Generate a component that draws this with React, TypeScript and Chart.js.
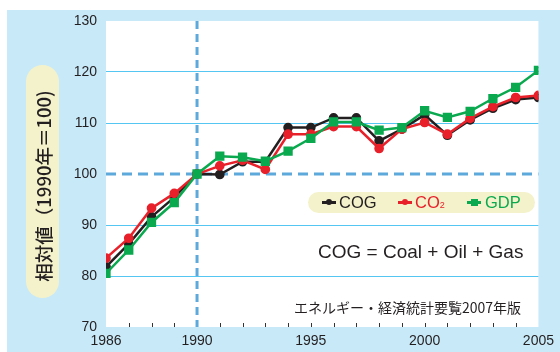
import React, { useEffect, useRef } from "react";
import { Chart, registerables } from "chart.js";

Chart.register(...registerables);

const years = [1986, 1987, 1988, 1989, 1990, 1991, 1992, 1993, 1994, 1995, 1996, 1997, 1998, 1999, 2000, 2001, 2002, 2003, 2004, 2005];
const cog = [81.8, 86.3, 91.6, 95.4, 100, 99.9, 102.4, 102.4, 109.1, 109.1, 111.0, 111.0, 106.5, 108.8, 111.6, 107.6, 110.6, 112.9, 114.6, 115.0];
const co2 = [83.5, 87.4, 93.3, 96.2, 100, 101.6, 102.7, 100.9, 107.8, 107.8, 109.3, 109.3, 105.0, 108.8, 110.1, 107.8, 110.9, 113.2, 115.0, 115.4];
const gdp = [80.5, 85.1, 90.5, 94.4, 100, 103.5, 103.3, 102.5, 104.5, 107.0, 110.2, 110.2, 108.6, 109.1, 112.4, 111.1, 112.3, 114.8, 117.0, 120.3];
const xTickLabels = [1986, 1990, 1995, 2000, 2005];
const yMin = 70;
const yMax = 130;
const refYear = 1990;
const refValue = 100;

const BLUE_BG = "#c8e9f8";
const CREAM = "#f4f2cb";
const GRID = "#55c6f2";
const DASH = "#5ea9dc";
const TEXT = "#231f20";
const BLACK = "#231f20";
const RED = "#e8202a";
const GREEN = "#0aa94f";

const bgPlugin = {
  id: "bgPlugin",
  beforeDraw(chart: any) {
    const { ctx, chartArea } = chart;
    ctx.save();
    ctx.fillStyle = "#ffffff";
    ctx.fillRect(0, 0, chart.width, chart.height);
    ctx.fillStyle = BLUE_BG;
    ctx.fillRect(7, 10, chart.width - 7, chart.height - 10);
    ctx.fillStyle = "#ffffff";
    ctx.fillRect(chartArea.left, chartArea.top, chartArea.right - chartArea.left, chartArea.bottom - chartArea.top);
    ctx.restore();
  },
};

const refPlugin = {
  id: "refPlugin",
  beforeDatasetsDraw(chart: any) {
    const { ctx, chartArea, scales } = chart;
    const xs = scales.x;
    const ys = scales.y;
    ctx.save();
    ctx.strokeStyle = "#333";
    ctx.lineWidth = 1;
    years.forEach((yr) => {
      if (yr === years[0] || yr === years[years.length - 1] || yr === refYear) return;
      const px = Math.round(xs.getPixelForValue(yr)) + 0.5;
      ctx.beginPath();
      ctx.moveTo(px, chartArea.bottom);
      ctx.lineTo(px, chartArea.bottom - 4);
      ctx.stroke();
    });
    ctx.strokeStyle = DASH;
    ctx.lineWidth = 3;
    const py = ys.getPixelForValue(refValue);
    ctx.setLineDash([10, 6]);
    ctx.beginPath();
    ctx.moveTo(chartArea.left, py);
    ctx.lineTo(chartArea.right, py);
    ctx.stroke();
    const px = xs.getPixelForValue(refYear);
    ctx.setLineDash([8, 5]);
    ctx.beginPath();
    ctx.moveTo(px, chartArea.top);
    ctx.lineTo(px, chartArea.bottom);
    ctx.stroke();
    ctx.restore();
  },
};

const toPts = (arr: number[]) => years.map((yr, i) => ({ x: yr, y: arr[i] }));

export default function App() {
  const ref = useRef<HTMLCanvasElement | null>(null);
  useEffect(() => {
    if (!ref.current) return;
    const chart = new Chart(ref.current, {
      type: "line",
      data: {
        datasets: [
          {
            label: "COG",
            data: toPts(cog),
            borderColor: BLACK,
            backgroundColor: BLACK,
            borderWidth: 2.5,
            pointRadius: 3.6,
            pointStyle: "circle",
            order: 2,
          },
          {
            label: "CO2",
            data: toPts(co2),
            borderColor: RED,
            backgroundColor: RED,
            borderWidth: 2.5,
            pointRadius: 3.6,
            pointStyle: "circle",
            order: 1,
          },
          {
            label: "GDP",
            data: toPts(gdp),
            borderColor: GREEN,
            backgroundColor: GREEN,
            borderWidth: 2.5,
            pointRadius: 4.8,
            pointStyle: "rect",
            order: 0,
          },
        ],
      },
      options: {
        responsive: false,
        animation: false,
        layout: { padding: { top: 21, right: 21, bottom: 0, left: 0 } },
        plugins: { legend: { display: false }, tooltip: { enabled: false } },
        scales: {
          x: {
            type: "linear",
            min: years[0],
            max: years[years.length - 1],
            grid: { display: false, drawTicks: false },
            border: { display: false },
            afterBuildTicks: (s: any) => {
              s.ticks = xTickLabels.map((v) => ({ value: v }));
            },
            afterFit: (s: any) => {
              s.height = 25;
            },
            ticks: {
              autoSkip: false,
              maxRotation: 0,
              padding: 6,
              color: TEXT,
              font: { family: "'Liberation Sans', Arial, sans-serif", size: 14 },
              callback: (v: any) => String(v),
            },
          },
          y: {
            min: yMin,
            max: yMax,
            grid: {
              drawTicks: false,
              lineWidth: 1,
              color: (c: any) =>
                c.tick && (c.tick.value === yMin || c.tick.value === yMax || c.tick.value === refValue) ? "rgba(0,0,0,0)" : GRID,
            },
            border: { display: false },
            afterFit: (s: any) => {
              s.width = 106;
            },
            ticks: {
              stepSize: 10,
              padding: 9,
              color: TEXT,
              font: { family: "'Liberation Sans', Arial, sans-serif", size: 14 },
            },
          },
        },
      },
      plugins: [bgPlugin, refPlugin],
    });
    return () => chart.destroy();
  }, []);

  const sans = "'Liberation Sans', Arial, sans-serif";
  const legendItem = (color: string, square: boolean, left: number) => (
    <div style={{ position: "absolute", left, top: 202, width: 14, height: 0 }}>
      <div style={{ position: "absolute", left: 0, top: -1, width: 14, height: 2.5, background: color }} />
      <div
        style={{
          position: "absolute",
          left: square ? 3.5 : 4,
          top: square ? -3.5 : -3,
          width: square ? 7 : 6,
          height: square ? 7 : 6,
          borderRadius: square ? 0 : 3,
          background: color,
        }}
      />
    </div>
  );

  return (
    <div style={{ position: "fixed", left: 0, top: 0, width: 560, height: 352, overflow: "hidden" }}>
      <canvas ref={ref} width={560} height={352} style={{ display: "block", width: 560, height: 352 }} />
      <div
        style={{
          position: "absolute",
          left: 26,
          top: 65,
          width: 33,
          height: 233,
          borderRadius: 17,
          background: CREAM,
        }}
      />
      <div
        style={{
          position: "absolute",
          left: 42.5,
          top: 186,
          transform: "translate(-50%, -50%) rotate(-90deg)",
          whiteSpace: "nowrap",
          fontFamily: "'Noto Sans CJK JP', sans-serif",
          fontSize: 18.5,
          fontWeight: 500,
          color: TEXT,
          lineHeight: 1,
        }}
      >
        相対値（1990年＝100)
      </div>
      <div
        style={{
          position: "absolute",
          left: 308,
          top: 192,
          width: 227,
          height: 21,
          borderRadius: 11,
          background: CREAM,
        }}
      />
      {legendItem(BLACK, false, 322)}
      {legendItem(RED, false, 398)}
      {legendItem(GREEN, true, 467)}
      <div style={{ position: "absolute", left: 339, top: 193, fontFamily: sans, fontSize: 16.5, color: BLACK, lineHeight: "19px" }}>
        COG
      </div>
      <div style={{ position: "absolute", left: 415, top: 193, fontFamily: sans, fontSize: 16.5, color: RED, lineHeight: "19px" }}>
        CO<span style={{ fontSize: 9 }}>2</span>
      </div>
      <div style={{ position: "absolute", left: 485, top: 193, fontFamily: sans, fontSize: 16.5, color: GREEN, lineHeight: "19px" }}>
        GDP
      </div>
      <div
        style={{
          position: "absolute",
          left: 318,
          top: 241,
          fontFamily: sans,
          fontSize: 19,
          color: TEXT,
          whiteSpace: "nowrap",
          lineHeight: "22px",
        }}
      >
        COG = Coal + Oil + Gas
      </div>
      <div
        style={{
          position: "absolute",
          left: 294,
          top: 298,
          fontFamily: "'Noto Sans CJK JP', sans-serif",
          fontSize: 14,
          color: TEXT,
          whiteSpace: "nowrap",
          lineHeight: "18px",
        }}
      >
        エネルギー・経済統計要覧2007年版
      </div>
    </div>
  );
}
